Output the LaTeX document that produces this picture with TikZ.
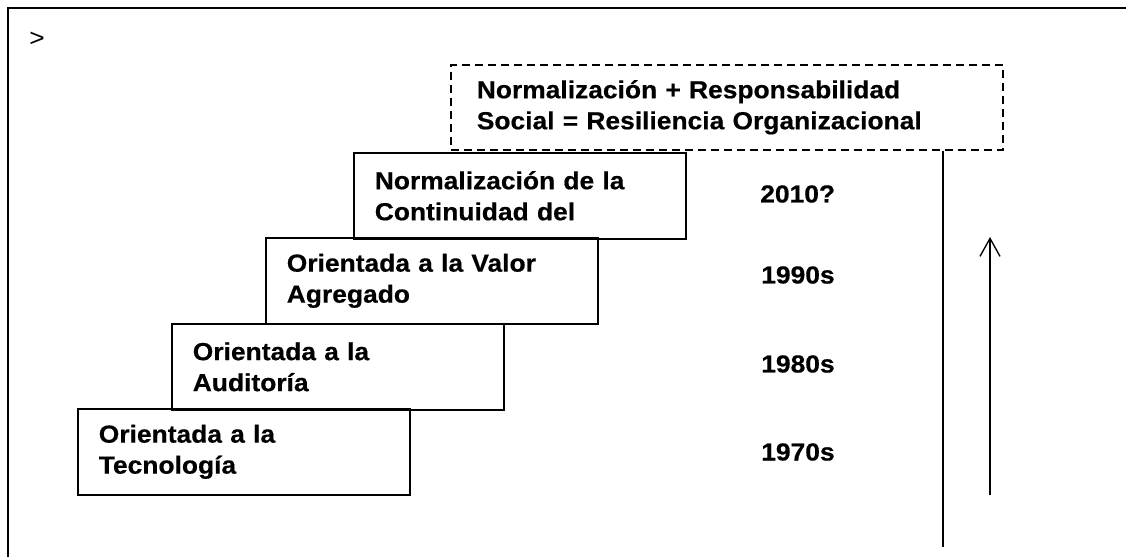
\documentclass[tikz,border=0pt]{standalone}
\usepackage{fontspec}
\setmainfont{Liberation Sans}[FakeStretch=1.07, BoldFeatures={FakeBold=0.5}]
\usetikzlibrary{arrows.meta}

\begin{document}
\begin{tikzpicture}[x=0.75pt, y=-0.75pt,
    every node/.style={font=\bfseries\fontsize{18.5}{23.25}\selectfont, align=left},
    stufe/.style={draw, line width=1.2pt, anchor=north west, minimum width=249pt,
      minimum height=64.5pt, text width=217.5pt, inner xsep=15.75pt, inner ysep=0pt},
    jahr/.style={anchor=west, inner sep=0pt}]
    \useasboundingbox (0,0) rectangle (1126,557);

    % Rahmen - nur oben und links sichtbar
    \draw[line width=1.5pt] (8,557) -- (8,8) -- (1126,8);
    \node[font=\fontsize{18.5}{20}\selectfont, anchor=west, inner sep=0pt] (zeichen) at (29,39) {>};

    % Stufen (von unten nach oben)
    \node[stufe] (tec) at (77,408) {Orientada a la\\Tecnología};
    \node[stufe] (aud) at (171,323) {Orientada a la\\Auditoría};
    \node[stufe] (valor) at (265,237) {Orientada a la Valor\\Agregado};
    \node[stufe] (norm) at (353,152) {Normalización de la\\Continuidad del};

    % Ziel - gestrichelter Kasten
    \node[draw, dash pattern=on 6pt off 3.75pt, line width=1.2pt, anchor=north west,
      minimum width=414pt, minimum height=63.75pt, text width=375pt, inner xsep=19.5pt,
      inner ysep=0pt] (resil) at (450,64)
      {Normalización + Responsabilidad\\Social = Resiliencia Organizacional};

    % Jahre
    \node[jahr] (j1970) at (761,452) {1970s};
    \node[jahr] (j1980) at (761,364) {1980s};
    \node[jahr] (j1990) at (761,275) {1990s};
    \node[jahr] (j2010) at (760,194) {2010?};

    % Zeitachse und Pfeil
    \coordinate (achse) at (943,547);
    \draw[line width=1pt] (resil.south -| achse) -- (achse);
    \coordinate (pfeil-unten) at (990,495);
    \coordinate (pfeil-oben) at (990,237);
    \draw[line width=1pt, -{Straight Barb[length=13.5pt, width=15pt]}] (pfeil-unten) -- (pfeil-oben);
\end{tikzpicture}
\end{document}
